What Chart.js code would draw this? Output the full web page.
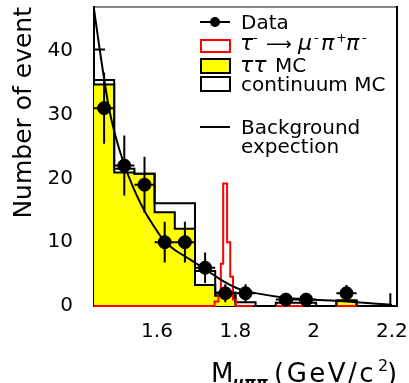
<!DOCTYPE html>
<html>
<head>
<meta charset="utf-8">
<script src="https://cdn.jsdelivr.net/npm/chart.js@4"></script>
<style>
  html, body { margin: 0; padding: 0; background: #fff; }
</style>
</head>
<body>
<canvas id="myChart" width="409" height="383"></canvas>
<script>
// histogram binning
var xMin = 1.439;
var binWidth = 0.0516;
var nBins = 15;
var xMax = xMin + nBins * binWidth;

// tau-tau MC (yellow) and tau-tau + continuum MC (black outline), one value per bin
var tauTauMC = [34.7, 20.9, 20.7, 14.7, 12.1, 3.3, 1.6, 0, 0, 0, 0, 0, 0.8, 0, 0];
var totalMC = [35.4, 21.5, 20.7, 16.1, 16.1, 5.5, 2.1, 0.6, 0, 0.5, 0.5, 0, 0.9, 0, 0];

// data: bin index, events, error
var dataBins = [0, 1, 2, 3, 4, 5, 6, 7, 9, 10, 12];
var dataCounts = [31, 22, 19, 10, 10, 6, 2, 2, 1, 1, 2];
var dataErrors = [5.6, 4.7, 4.4, 3.2, 3.2, 2.4, 1.4, 1.4, 1.0, 1.0, 1.3];

// signal MC tau -> mu pi pi (fine steps, value holds until next x, null = gap)
var sigX = [1.439, 1.747, 1.757, 1.763, 1.769, 1.779, 1.787, 1.794, 1.802, 1.845, 1.846, 1.904, 1.973, 1.974, 2.059, 2.110];
var sigY = [0, 0.7, 2.0, 6.6, 19.2, 10.0, 4.6, 1.0, 0, 0, null, 0, 0, null, 0, 0];

// background expectation curve
var bkgX = [1.439, 1.454, 1.477, 1.494, 1.516, 1.541, 1.567, 1.592, 1.618, 1.643, 1.684, 1.727, 1.769, 1.812, 1.863, 1.928, 2.085, 2.2];
var bkgY = [46.5, 40.0, 31.1, 26.6, 22.2, 18.3, 15.0, 12.5, 10.2, 8.9, 7.3, 5.6, 3.9, 2.6, 1.9, 1.3, 0.7, 0.2];

// small stray bars seen on the plot (top left, right edge)
var strayX = [1.439, 1.467, 1.5, 2.196, 2.196];
var strayY = [40.2, 40.2, null, 0, 2.0];

// axes
var xTickValues = [1.6, 1.8, 2.0, 2.2];
var xTickLabels = ["1.6", "1.8", "2", "2.2"];
var yTickValues = [0, 10, 20, 30, 40];
var yMax = 47;

var FONT = "DejaVu Sans";
var AREA = { left: 94, top: 6, right: 397, bottom: 306 };

// histogram outline: value i holds from edge i to edge i+1
function stepPoints(vals) {
  var pts = [];
  for (var i = 0; i < vals.length; i++) {
    pts.push({ x: xMin + i * binWidth, y: vals[i] });
  }
  pts.push({ x: xMax, y: vals[vals.length - 1] });
  return pts;
}

function zipPoints(xs, ys) {
  return xs.map(function (x, i) { return { x: x, y: ys[i] }; });
}

var dataPoints = dataBins.map(function (b, i) {
  return { x: xMin + (b + 0.5) * binWidth, y: dataCounts[i] };
});

// keep the plot box where the reference has it
var pinArea = {
  id: "pinArea",
  afterLayout: function (chart) {
    var a = AREA, xs = chart.scales.x, ys = chart.scales.y;
    xs.left = a.left; xs.right = a.right; xs.top = a.bottom; xs.bottom = chart.height;
    xs.width = a.right - a.left; xs.height = chart.height - a.bottom;
    ys.left = 0; ys.right = a.left; ys.top = a.top; ys.bottom = a.bottom;
    ys.width = a.left; ys.height = a.bottom - a.top;
    Object.assign(chart.chartArea, a, { width: a.right - a.left, height: a.bottom - a.top });
    xs.configure();
    ys.configure();
  }
};

// error bars for the data points
var errorBars = {
  id: "errorBars",
  afterDatasetsDraw: function (chart) {
    var ctx = chart.ctx, xs = chart.scales.x, ys = chart.scales.y;
    ctx.save();
    ctx.strokeStyle = "#000";
    ctx.lineWidth = 2;
    dataPoints.forEach(function (p, i) {
      var px = xs.getPixelForValue(p.x), py = ys.getPixelForValue(p.y);
      ctx.beginPath();
      ctx.moveTo(px, ys.getPixelForValue(p.y - dataErrors[i]));
      ctx.lineTo(px, ys.getPixelForValue(p.y + dataErrors[i]));
      ctx.moveTo(xs.getPixelForValue(p.x - binWidth / 2), py);
      ctx.lineTo(xs.getPixelForValue(p.x + binWidth / 2), py);
      ctx.stroke();
    });
    ctx.restore();
  }
};

// plot frame
var frame = {
  id: "frame",
  beforeDatasetsDraw: function (chart) {
    var a = chart.chartArea, ctx = chart.ctx;
    ctx.save();
    ctx.lineWidth = 2;
    ctx.strokeStyle = "#888";
    ctx.beginPath();
    ctx.moveTo(a.left, a.top + 1);
    ctx.lineTo(a.right, a.top + 1);
    ctx.stroke();
    ctx.strokeStyle = "#000";
    ctx.beginPath();
    ctx.moveTo(a.left, a.top);
    ctx.lineTo(a.left, a.bottom);
    ctx.lineTo(a.right, a.bottom);
    ctx.lineTo(a.right, a.top);
    ctx.stroke();
    ctx.restore();
  }
};

// text pieces placed at fixed x: [text, font, x, y, letterSpacing]
function drawPieces(ctx, pieces) {
  pieces.forEach(function (p) {
    ctx.font = p[1];
    ctx.letterSpacing = p[4] || "0px";
    ctx.fillText(p[0], p[2], p[3]);
  });
  ctx.letterSpacing = "0px";
}

// titles and legend
var decorations = {
  id: "decorations",
  afterDraw: function (chart) {
    var ctx = chart.ctx;
    ctx.save();
    ctx.fillStyle = "#000";
    ctx.textBaseline = "alphabetic";
    ctx.textAlign = "left";

    // y title
    ctx.save();
    ctx.translate(31, 7);
    ctx.rotate(-Math.PI / 2);
    ctx.textAlign = "right";
    ctx.font = "25px " + FONT;
    ctx.fillText("Number of event", 0, 0);
    ctx.restore();

    // x title
    var big = "26px " + FONT, sub = "italic bold 15px " + FONT, sup = "16px " + FONT;
    drawPieces(ctx, [
      ["M", big, 211, 382],
      ["\u03bc\u03c0\u03c0", sub, 233, 388],
      ["(GeV/c", big, 274, 382, "2.5px"],
      ["2", sup, 378, 371],
      [")", big, 387, 382]
    ]);

    // legend symbols
    ctx.lineWidth = 2;
    ctx.strokeStyle = "#000";
    ctx.beginPath();
    ctx.moveTo(200, 22); ctx.lineTo(230, 22);
    ctx.moveTo(215, 17); ctx.lineTo(215, 27);
    ctx.moveTo(200, 127); ctx.lineTo(230, 127);
    ctx.stroke();
    ctx.beginPath();
    ctx.arc(215, 22, 5, 0, Math.PI * 2);
    ctx.fill();

    ctx.strokeStyle = "#ff0000";
    ctx.strokeRect(201, 40, 29, 12);
    ctx.fillStyle = "#ffff00";
    ctx.fillRect(201, 59, 29, 14);
    ctx.strokeStyle = "#000";
    ctx.strokeRect(201, 59, 29, 14);
    ctx.strokeRect(201, 77, 29, 14);

    // legend text
    ctx.fillStyle = "#000";
    var lf = "20px " + FONT, gk = "italic 22px " + FONT, sm = "13px " + FONT;
    ctx.font = lf;
    ctx.fillText("Data", 241, 29);
    drawPieces(ctx, [
      ["\u03c4", gk, 240, 50],
      ["-", sm, 253, 42],
      ["\u27f6", "18px " + FONT, 266, 50],
      ["\u03bc", gk, 298, 50],
      ["-", sm, 314, 42],
      ["\u03c0", gk, 321, 50],
      ["+", sm, 336, 42],
      ["\u03c0", gk, 346, 50],
      ["-", sm, 362, 42],
      ["\u03c4\u03c4", gk, 240, 72],
      ["MC", lf, 275, 72]
    ]);
    ctx.font = lf;
    ctx.fillText("continuum MC", 241, 91);
    ctx.fillText("Background", 241, 134);
    ctx.fillText("expection", 241, 153);
    ctx.restore();
  }
};

var ctx = document.getElementById("myChart").getContext("2d");
var chart = new Chart(ctx, {
  type: "line",
  data: {
    datasets: [
      {
        label: "Data",
        type: "scatter",
        data: dataPoints,
        pointRadius: 6.5,
        pointBackgroundColor: "#000",
        pointBorderColor: "#000",
        showLine: false,
        clip: 8,
        order: 0
      },
      {
        label: "Background expection",
        data: zipPoints(bkgX, bkgY),
        borderColor: "#000",
        borderWidth: 2,
        pointRadius: 0,
        cubicInterpolationMode: "monotone",
        fill: false,
        order: 1
      },
      {
        label: "stray",
        data: zipPoints(strayX, strayY),
        borderColor: "#000",
        borderWidth: 2,
        pointRadius: 0,
        spanGaps: false,
        fill: false,
        order: 1
      },
      {
        label: "tau -> mu pi pi",
        data: zipPoints(sigX, sigY),
        stepped: "before",
        borderColor: "#ff0000",
        borderWidth: 2,
        pointRadius: 0,
        spanGaps: false,
        fill: false,
        clip: 2,
        order: 2
      },
      {
        label: "continuum MC",
        data: stepPoints(totalMC),
        stepped: "before",
        borderColor: "#000",
        borderWidth: 2,
        pointRadius: 0,
        fill: false,
        clip: 2,
        order: 3
      },
      {
        label: "tau tau MC",
        data: stepPoints(tauTauMC),
        stepped: "before",
        borderColor: "#000",
        borderWidth: 2,
        backgroundColor: "#ffff00",
        pointRadius: 0,
        fill: "origin",
        order: 4
      }
    ]
  },
  options: {
    responsive: false,
    animation: false,
    devicePixelRatio: 1,
    layout: { padding: { top: 6, right: 12, left: 0, bottom: 0 } },
    plugins: { legend: { display: false }, tooltip: { enabled: false } },
    scales: {
      x: {
        type: "linear",
        min: xMin,
        max: xMax,
        grid: { display: false, drawTicks: false },
        border: { display: false },
        afterBuildTicks: function (s) { s.ticks = xTickValues.map(function (v) { return { value: v }; }); },
        ticks: {
          padding: 14,
          maxRotation: 0,
          color: "#000",
          font: { family: FONT, size: 20 },
          callback: function (v, i) { return xTickLabels[i]; }
        }
      },
      y: {
        min: 0,
        max: yMax,
        grid: { display: false, drawTicks: false },
        border: { display: false },
        afterBuildTicks: function (s) { s.ticks = yTickValues.map(function (v) { return { value: v }; }); },
        ticks: {
          padding: 21,
          color: "#000",
          font: { family: FONT, size: 20 }
        }
      }
    }
  },
  plugins: [pinArea, frame, errorBars, decorations]
});
</script>
</body>
</html>
